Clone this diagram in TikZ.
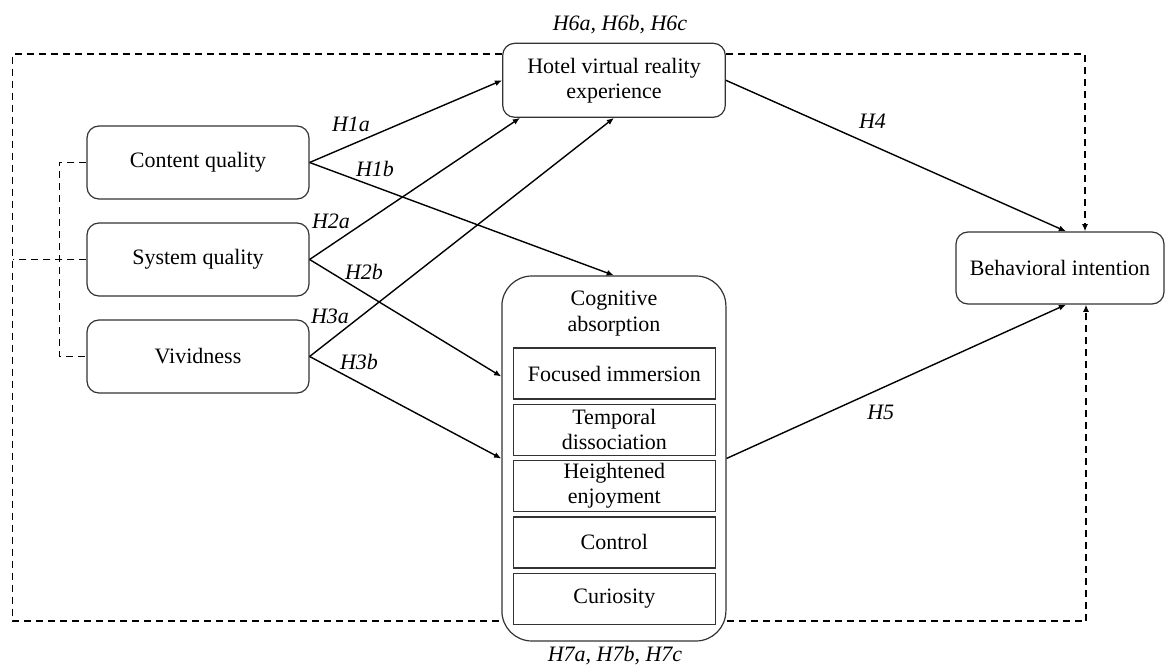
\documentclass[tikz,border=0pt]{standalone}
\usepackage{fontspec}
\setmainfont{Liberation Serif}
\usetikzlibrary{arrows.meta, positioning}
\tikzset{
    construct/.style={rectangle, rounded corners=6pt, draw=black!80, line width=0.6pt, minimum width=111pt, minimum height=36.5pt, align=center, inner sep=2pt},
    absorb/.style={rectangle, rounded corners=15pt, draw=black!80, line width=0.6pt, minimum width=112pt, minimum height=182.5pt, inner sep=0pt},
    dimension/.style={rectangle, draw=black!80, line width=0.6pt, minimum width=101pt, minimum height=25.5pt, align=center, inner sep=0pt},
    hyp/.style={font=\fontsize{11}{12.5}\selectfont\itshape, inner sep=1pt},
    link/.style={-{Latex[length=3.6pt,width=3pt]}, line width=0.7pt},
    mediation/.style={dash pattern=on 3.5pt off 2.5pt, line width=0.75pt},
}

\begin{document}
\begin{tikzpicture}[x=5pt, y=-5pt, every node/.style={font=\fontsize{11}{12.5}\selectfont}]
\useasboundingbox (0,0) rectangle (116.8,66.8);

% === CONSTRUCTS ===
\node[construct] (cq) at (19.8, 16.25) {Content quality};
\node[construct] (sq) at (19.8, 25.95) {System quality};
\node[construct] (vv) at (19.8, 35.65) {Vividness};
\node[construct, minimum width=111.3pt, minimum height=37pt] (hvr) at (61.4, 8.03) {Hotel virtual reality\\experience};
\node[construct, minimum width=104pt, minimum height=36pt] (bi) at (106, 26.8) {Behavioral intention};

% === COGNITIVE ABSORPTION ===
\node[absorb] (ca) at (61.39, 45.85) {};
\node[font=\fontsize{11}{13}\selectfont, align=center] (catitle) at (61.4, 31.37) {Cognitive\\absorption};
\node[dimension] (fi) at (61.43, 37.35) {Focused immersion};
\node[dimension] (td) at (61.43, 42.98) {Temporal\\dissociation};
\node[dimension] (he) at (61.43, 48.61) {Heightened\\enjoyment};
\node[dimension] (ct) at (61.43, 54.24) {Control};
\node[dimension] (cu) at (61.43, 59.87) {Curiosity};

% === HYPOTHESES ===
\draw[link] (cq.east) -- (hvr.west);
\draw[link] (cq.east) -- (ca.north);
\draw[link] (sq.east) -- ([xshift=-47pt]hvr.south);
\draw[link] (sq.east) -- ([yshift=41pt]ca.west);
\draw[link] (vv.east) -- (hvr.south);
\draw[link] (vv.east) -- (ca.west);
\draw[link] (hvr.east) -- ([xshift=3pt]bi.north);
\draw[link] (ca.east) -- ([xshift=3pt]bi.south);

\node[hyp] (lh1a) at (35.1, 12.45) {H1a};
\node[hyp] (lh1b) at (37.5, 16.85) {H1b};
\node[hyp] (lh2a) at (33.1, 22.1) {H2a};
\node[hyp] (lh2b) at (36.4, 27.15) {H2b};
\node[hyp] (lh3a) at (33.0, 31.67) {H3a};
\node[hyp] (lh3b) at (35.9, 36.17) {H3b};
\node[hyp] (lh4) at (87.25, 12.17) {H4};
\node[hyp] (lh5) at (88.07, 41.2) {H5};
\node[hyp] (lh6) at (62.0, 2.5) {H6a, H6b, H6c};
\node[hyp] (lh7) at (61.5, 65.6) {H7a, H7b, H7c};

% === MEDIATION (dashed) ===
\coordinate (lt) at (1.27, 5.4);
\coordinate (lb) at (1.27, 62.1);
\coordinate (rt) at (108.5, 5.4);
\coordinate (rb) at (108.6, 62.1);
\coordinate (brk) at (5.93, 25.95);
\draw[mediation] (cq.west) -- (cq.west -| brk) -- (vv.west -| brk) -- (vv.west);
\draw[mediation] (sq.west) -- (sq.west -| lt);
\draw[mediation] (hvr.west |- lt) -- (lt) -- (lb) -- (ca.west |- lb);
\draw[mediation, -{Latex[length=3.6pt,width=3pt]}] (hvr.east |- rt) -- (rt) -- (rt |- bi.north);
\draw[mediation, -{Latex[length=3.6pt,width=3pt]}] (ca.east |- rb) -- (rb) -- (rb |- bi.south);

\end{tikzpicture}
\end{document}
